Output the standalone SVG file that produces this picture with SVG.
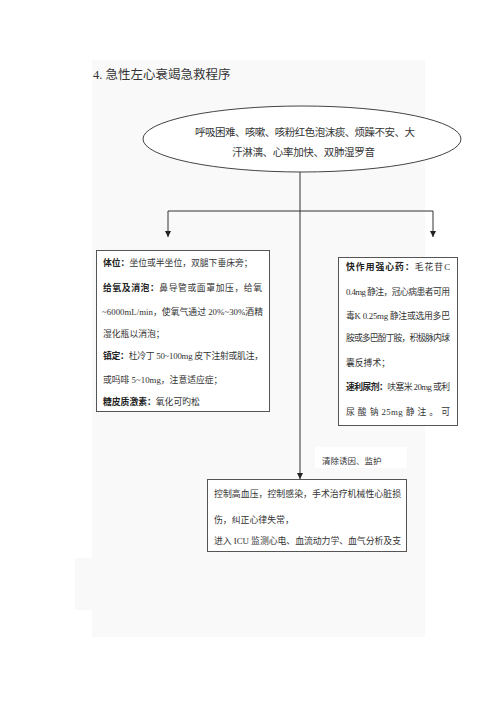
<svg xmlns="http://www.w3.org/2000/svg" width="500" height="707" viewBox="0 0 500 707">
<style>
.t{font-family:"Liberation Serif","Noto Sans CJK SC",serif;fill:#333;}
.b{font-weight:bold;fill:#222;}
.box{fill:#fff;stroke:#555;stroke-width:1;}
.ln{stroke:#333;stroke-width:1;fill:none;}
</style>
<defs>
<marker id="ar" viewBox="0 0 6 6" refX="6" refY="3" markerWidth="6" markerHeight="6" orient="auto-start-reverse" markerUnits="userSpaceOnUse">
<path d="M0,0 L6,3 L0,6 Z" fill="#222"/>
</marker>
</defs>
<rect width="500" height="707" fill="#fff"/>
<g id="panel">
<rect x="92" y="60" width="333" height="577" fill="#f9f9f9"/>
<rect x="75" y="558" width="17" height="52" fill="#f9f9f9"/>
</g>
<text class="t" x="93" y="79" font-size="12.5">4. 急性左心衰竭急救程序</text>
<g id="connectors">
<line class="ln" x1="300" y1="172" x2="300" y2="479" marker-end="url(#ar)"/>
<polyline class="ln" points="168,237 168,211 433,211 433,237" marker-start="url(#ar)" marker-end="url(#ar)"/>
</g>
<g id="symptoms">
<ellipse cx="302" cy="139" rx="159" ry="33" fill="#fff" stroke="#444" stroke-width="1"/>
<text class="t" x="195" y="136" font-size="10.5" textLength="220" lengthAdjust="spacing">呼吸困难、咳嗽、咳粉红色泡沫痰、烦躁不安、大</text>
<text class="t" x="232" y="156" font-size="10.5" textLength="143" lengthAdjust="spacing">汗淋漓、心率加快、双肺湿罗音</text>
</g>
<g id="left">
<rect class="box" x="96.5" y="250.5" width="173" height="161"/>
<text class="t" x="103" y="266" font-size="8.8"><tspan class="b">体位：</tspan>坐位或半坐位，双腿下垂床旁；</text>
<text class="t" x="103" y="291" font-size="8.8" textLength="159" lengthAdjust="spacing"><tspan class="b">给氧及消泡：</tspan>鼻导管或面罩加压，给氧</text>
<text class="t" x="102" y="315" font-size="8.8" textLength="161" lengthAdjust="spacing">~6000mL/min，使氧气通过 20%~30%酒精</text>
<text class="t" x="103" y="337" font-size="8.8">湿化瓶以消泡；</text>
<text class="t" x="103" y="359" font-size="8.8" textLength="160" lengthAdjust="spacing"><tspan class="b">镇定：</tspan>杜冷丁 50~100mg 皮下注射或肌注，</text>
<text class="t" x="103" y="383" font-size="8.8">或吗啡 5~10mg，注意适应症；</text>
<text class="t" x="103" y="405" font-size="8.8"><tspan class="b">糖皮质激素：</tspan>氧化可旳松</text>
</g>
<g id="right">
<rect class="box" x="338.5" y="257.5" width="119" height="168"/>
<text class="t" x="346" y="270" font-size="8.8" textLength="104" lengthAdjust="spacing"><tspan class="b">快作用强心药：</tspan>毛花苷C</text>
<text class="t" x="346" y="295" font-size="8.8" textLength="104" lengthAdjust="spacing">0.4mg 静注，冠心病患者可用</text>
<text class="t" x="346" y="319" font-size="8.8" textLength="104" lengthAdjust="spacing">毒K 0.25mg 静注或选用多巴</text>
<text class="t" x="346" y="341" font-size="8.8" textLength="104" lengthAdjust="spacing">胺或多巴酚丁胺，积极脉内球</text>
<text class="t" x="346" y="366" font-size="8.8">囊反搏术；</text>
<text class="t" x="346" y="390" font-size="8.8" textLength="104" lengthAdjust="spacing"><tspan class="b">速利尿剂：</tspan>呋塞米 20mg 或利</text>
<text class="t" x="346" y="415" font-size="8.8" textLength="104" lengthAdjust="spacing">尿 酸 钠 25mg 静 注 。 可</text>
</g>
<g id="label">
<rect x="315" y="447" width="92" height="21" fill="#fff"/>
<text class="t" x="322" y="464" font-size="8.5">清除诱因、监护</text>
</g>
<g id="bottom">
<rect class="box" x="207.5" y="479.5" width="199" height="72"/>
<text class="t" x="214" y="497" font-size="8.9" textLength="187" lengthAdjust="spacing">控制高血压，控制感染，手术治疗机械性心脏损</text>
<text class="t" x="214" y="523" font-size="8.9">伤，纠正心律失常，</text>
<text class="t" x="214" y="544" font-size="8.9" textLength="187" lengthAdjust="spacing">进入 ICU 监测心电、血流动力学、血气分析及支</text>
</g>
</svg>
